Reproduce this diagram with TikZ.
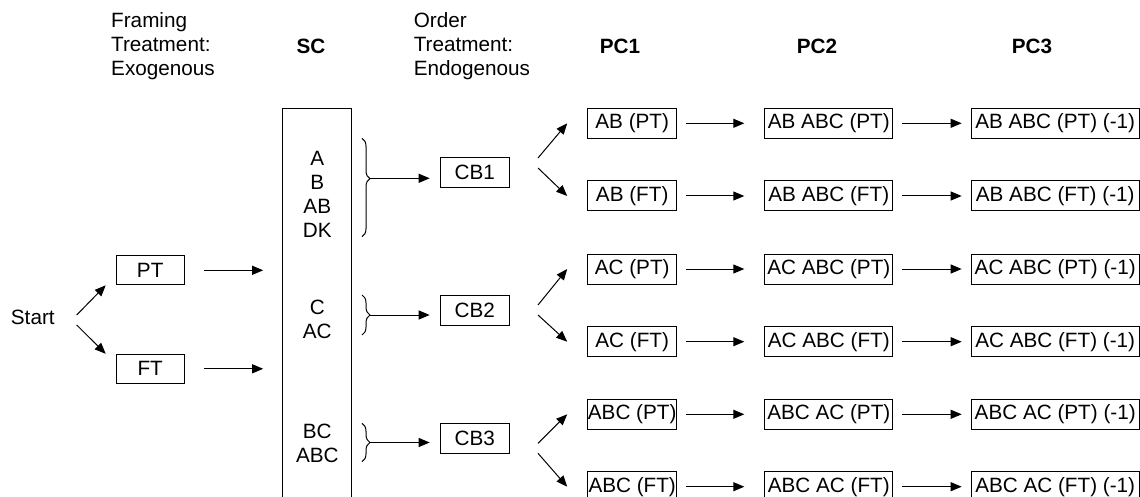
\documentclass[tikz,border=0pt]{standalone}
\usepackage{fontspec}
\setmainfont{Liberation Sans}
\usepackage{tikz}
\usetikzlibrary{arrows.meta,decorations.pathreplacing}

\begin{document}
\begin{tikzpicture}[x=1pt,y=-1pt,line width=1pt,
  every node/.style={font=\fontsize{20.7}{24.2}\selectfont,inner sep=0pt},
  arr/.style={-{Triangle[length=11pt,width=9pt]}},
  box/.style={draw,minimum height=30pt},
  colA/.style={box,minimum width=89pt},
  colB/.style={box,minimum width=128pt},
  colC/.style={box,minimum width=168pt},
  brc/.style={decorate,decoration={brace,amplitude=8pt}},
  head/.style={font=\fontsize{20.7}{24.2}\selectfont\bfseries}]
\useasboundingbox (0,0) rectangle (1140,497);
% column heads
\node[anchor=west,align=left] (framing) at (110.7,46) {Framing\\Treatment:\\Exogenous};
\node[head] (sc) at (311,46.7) {SC};
\node[anchor=west,align=left] (order) at (413.3,46) {Order\\Treatment:\\Endogenous};
\node[head] (pc1) at (620,46.7) {PC1};
\node[head] (pc2) at (817,46.7) {PC2};
\node[head] (pc3) at (1032,46.7) {PC3};
% start and framing
\node (start) at (32.8,317.3) {Start};
\node[box,minimum width=68pt,minimum height=29pt] (pt) at (150.2,270.3) {PT};
\node[box,minimum width=68pt,minimum height=29pt] (ft) at (150.2,368.8) {FT};
\coordinate (f0) at (76.7,320);
\draw[arr] ([yshift=5pt]f0) -- ([xshift=-10pt]pt.south west);
\draw[arr] ([yshift=-5pt]f0) -- ([xshift=-10pt]ft.north west);
% sets in SC
\node[draw,minimum width=69pt,minimum height=412pt] (scbox) at (317.2,314.3) {};
\draw[arr,shorten <=19pt,shorten >=19pt] (pt.east) -- (pt.east -| scbox.west);
\draw[arr,shorten <=19pt,shorten >=19pt] (ft.east) -- (ft.east -| scbox.west);
\node[align=center] (set1) at (317.3,194.5) {A\\B\\AB\\DK};
\node[align=center] (set2) at (317.3,319.2) {C\\AC};
\node[align=center] (set3) at (317.3,443.3) {BC\\ABC};
\draw[brc,decoration={aspect=0.41}] (362,138.3) -- (362,236.7);
\draw[brc] (362,295) -- (362,335);
\draw[brc] (362,423.3) -- (362,461.7);
\coordinate (t1) at (370,178.3);
\coordinate (t2) at (370,315);
\coordinate (t3) at (370,442.5);
% order blocks
\node[box,minimum width=69pt] (cb1) at (474.7,172.7) {CB1};
\node[box,minimum width=69pt] (cb2) at (474.7,310) {CB2};
\node[box,minimum width=69pt] (cb3) at (474.7,438.3) {CB3};
\draw[arr,shorten >=10pt] (t1) -- (t1 -| cb1.west);
\draw[arr,shorten >=10pt] (t2) -- (t2 -| cb2.west);
\draw[arr,shorten >=10pt] (t3) -- (t3 -| cb3.west);
% choices
\node[colA] (r1a) at (632.2,123.3) {AB (PT)};
\node[colB] (r1b) at (828.8,123.3) {AB ABC (PT)};
\node[colC] (r1c) at (1055.2,123.3) {AB ABC (PT) (-1)};
\node[colA] (r2a) at (632.2,196) {AB (FT)};
\node[colB] (r2b) at (828.8,196) {AB ABC (FT)};
\node[colC] (r2c) at (1055.2,196) {AB ABC (FT) (-1)};
\node[colA] (r3a) at (632.2,269) {AC (PT)};
\node[colB] (r3b) at (828.8,269) {AC ABC (PT)};
\node[colC] (r3c) at (1055.2,269) {AC ABC (PT) (-1)};
\node[colA] (r4a) at (632.2,341.7) {AC (FT)};
\node[colB] (r4b) at (828.8,341.7) {AC ABC (FT)};
\node[colC] (r4c) at (1055.2,341.7) {AC ABC (FT) (-1)};
\node[colA] (r5a) at (632.2,414.3) {ABC (PT)};
\node[colB] (r5b) at (828.8,414.3) {ABC AC (PT)};
\node[colC] (r5c) at (1055.2,414.3) {ABC AC (PT) (-1)};
\node[colA] (r6a) at (632.2,486.7) {ABC (FT)};
\node[colB] (r6b) at (828.8,486.7) {ABC AC (FT)};
\node[colC] (r6c) at (1055.2,486.7) {ABC AC (FT) (-1)};
\coordinate (f1) at (538,163);
\coordinate (f2) at (538,310);
\coordinate (f3) at (538,448.3);
\draw[arr] ([yshift=5pt]f1) -- ([xshift=-20pt]r1a.west);
\draw[arr] ([yshift=-5pt]f1) -- ([xshift=-20pt]r2a.west);
\draw[arr] ([yshift=5pt]f2) -- ([xshift=-20pt]r3a.west);
\draw[arr] ([yshift=-5pt]f2) -- ([xshift=-20pt]r4a.west);
\draw[arr] ([yshift=5pt]f3) -- ([xshift=-20pt]r5a.west);
\draw[arr] ([yshift=-5pt]f3) -- ([xshift=-20pt]r6a.west);
\draw[arr,shorten <=9pt,shorten >=20pt] (r1a.east) -- (r1b.west);
\draw[arr,shorten <=9pt,shorten >=20pt] (r2a.east) -- (r2b.west);
\draw[arr,shorten <=9pt,shorten >=20pt] (r3a.east) -- (r3b.west);
\draw[arr,shorten <=9pt,shorten >=20pt] (r4a.east) -- (r4b.west);
\draw[arr,shorten <=9pt,shorten >=20pt] (r5a.east) -- (r5b.west);
\draw[arr,shorten <=9pt,shorten >=20pt] (r6a.east) -- (r6b.west);
\draw[arr,shorten <=9pt,shorten >=9pt] (r1b.east) -- (r1c.west);
\draw[arr,shorten <=9pt,shorten >=9pt] (r2b.east) -- (r2c.west);
\draw[arr,shorten <=9pt,shorten >=9pt] (r3b.east) -- (r3c.west);
\draw[arr,shorten <=9pt,shorten >=9pt] (r4b.east) -- (r4c.west);
\draw[arr,shorten <=9pt,shorten >=9pt] (r5b.east) -- (r5c.west);
\draw[arr,shorten <=9pt,shorten >=9pt] (r6b.east) -- (r6c.west);
\end{tikzpicture}
\end{document}
